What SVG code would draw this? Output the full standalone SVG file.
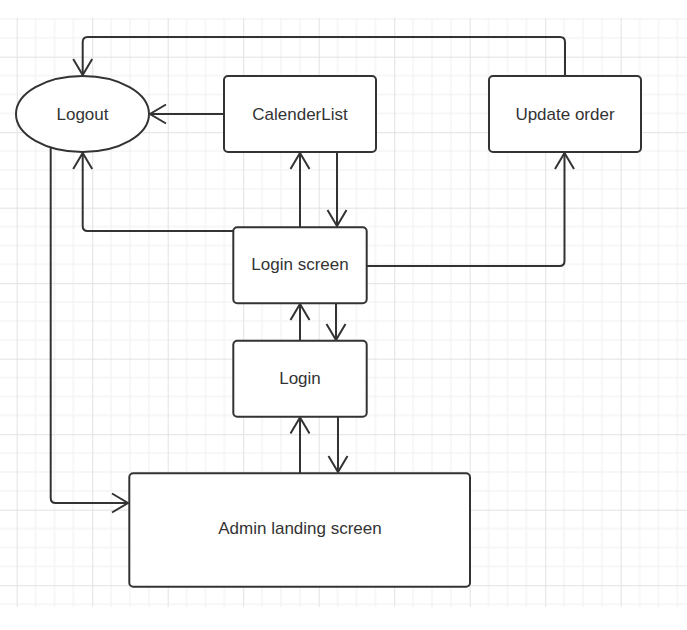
<svg xmlns="http://www.w3.org/2000/svg" width="687" height="630" viewBox="0 0 687 630">
  <defs>
    <!-- 4x4 grid cell block: one major line plus three minor lines each way -->
    <pattern id="grid" patternUnits="userSpaceOnUse" x="16.7" y="56.7" width="75.5" height="75.5">
      <g stroke="#f0f0f0" stroke-width="1">
        <line x1="18.875" y1="0" x2="18.875" y2="75.5"/>
        <line x1="37.75" y1="0" x2="37.75" y2="75.5"/>
        <line x1="56.625" y1="0" x2="56.625" y2="75.5"/>
        <line x1="0" y1="18.875" x2="75.5" y2="18.875"/>
        <line x1="0" y1="37.75" x2="75.5" y2="37.75"/>
        <line x1="0" y1="56.625" x2="75.5" y2="56.625"/>
      </g>
      <g stroke="#e2e2e2" stroke-width="1">
        <line x1="0.5" y1="0" x2="0.5" y2="75.5"/>
        <line x1="0" y1="0.5" x2="75.5" y2="0.5"/>
      </g>
    </pattern>
    <marker id="arrow" markerUnits="userSpaceOnUse" markerWidth="22" markerHeight="24" refX="18" refY="11" orient="auto" overflow="visible">
      <path d="M2,1.5 L18,11 L2,20.5" fill="none" stroke="#333" stroke-width="2" stroke-linejoin="miter"/>
    </marker>
  </defs>
  <style>
    .node { fill: #fff; stroke: #333; stroke-width: 2; }
    .label { font-family: "Liberation Sans", Arial, sans-serif; font-size: 17px; fill: #333; text-anchor: middle; }
    .edge { fill: none; stroke: #333; stroke-width: 2; marker-end: url(#arrow); }
  </style>

  <rect x="0" y="0" width="687" height="630" fill="#fff"/>
  <rect x="0" y="18" width="687" height="589" fill="url(#grid)"/>

  <!-- connectors -->
  <g id="connectors">
    <path class="edge" d="M565,76 L565,42 Q565,37 560,37 L87.7,37 Q82.7,37 82.7,42 L82.7,75"/>
    <path class="edge" d="M224,114 L150,114"/>
    <path class="edge" d="M233,231 L87.7,231 Q82.7,231 82.7,226 L82.7,153"/>
    <path class="edge" d="M50.7,147.5 L50.7,498 Q50.7,503 55.7,503 L128,503"/>
    <path class="edge" d="M300,227 L300,153"/>
    <path class="edge" d="M337,152 L337,226"/>
    <path class="edge" d="M367,266 L559.5,266 Q564.5,266 564.5,261 L564.5,153"/>
    <path class="edge" d="M300,340.7 L300,304"/>
    <path class="edge" d="M336,303.3 L336,340"/>
    <path class="edge" d="M300,473 L300,417.5"/>
    <path class="edge" d="M338,416.7 L338,472"/>
  </g>

  <g id="logout">
    <ellipse class="node" cx="82.5" cy="114" rx="66.5" ry="38"/>
    <text class="label" x="82.5" y="119.5">Logout</text>
  </g>
  <g id="calenderlist">
    <rect class="node" x="224" y="76" width="152" height="76" rx="4"/>
    <text class="label" x="300" y="119.5">CalenderList</text>
  </g>
  <g id="update-order">
    <rect class="node" x="489" y="76" width="152" height="76" rx="4"/>
    <text class="label" x="565" y="119.5">Update order</text>
  </g>
  <g id="login-screen">
    <rect class="node" x="233.3" y="227.3" width="133.4" height="76" rx="4"/>
    <text class="label" x="300" y="270">Login screen</text>
  </g>
  <g id="login">
    <rect class="node" x="233.3" y="340.7" width="133.4" height="76" rx="4"/>
    <text class="label" x="300" y="384">Login</text>
  </g>
  <g id="admin-landing-screen">
    <rect class="node" x="129.3" y="473.3" width="340.7" height="113.4" rx="4"/>
    <text class="label" x="300" y="534">Admin landing screen</text>
  </g>
</svg>
